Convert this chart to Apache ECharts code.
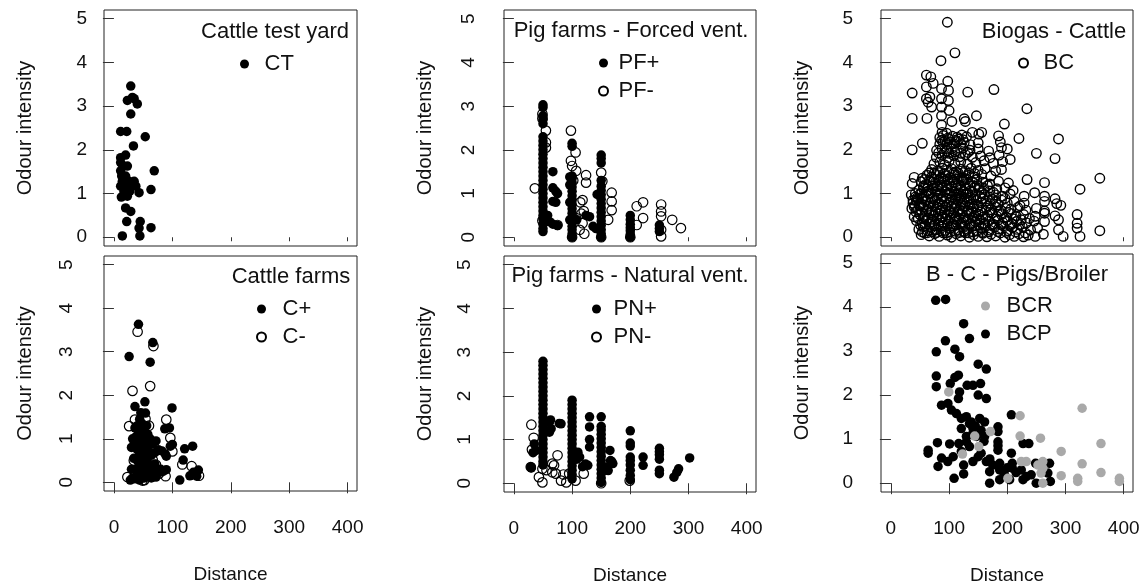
<!DOCTYPE html>
<html>
<head>
<meta charset="utf-8">
<script src="https://cdn.jsdelivr.net/npm/echarts@6/dist/echarts.min.js"></script>
<style>
  html, body { margin: 0; padding: 0; background: #fff; }
  #chart { width: 1146px; height: 587px; }
</style>
</head>
<body>
<div id="chart"></div>
<script>
// tick values shared by every panel
const xTicks = [0, 100, 200, 300, 400];
const yTicks = [0, 1, 2, 3, 4, 5];

const panelTitles = ['Cattle test yard', 'Pig farms - Forced vent.', 'Biogas - Cattle',
  'Cattle farms', 'Pig farms - Natural vent.', 'B - C - Pigs/Broiler'];

// Cattle test yard
const ctPoints = [[28.8,3.46],[23,3.13],[31.7,3.2],[34.6,3.17],[40,3.05],[28.8,2.82],[11.5,2.42],[21.9,2.42],
  [53.6,2.3],[33.4,2.09],[11.5,1.82],[20,1.88],[11.5,1.71],[15.6,1.63],[23,1.63],[11.5,1.52],[69,1.52],
  [13.3,1.4],[20,1.4],[14.4,1.28],[25.9,1.28],[34.6,1.28],[11.5,1.17],[20,1.17],[28.8,1.17],[37.5,1.17],
  [17.3,1.05],[27,1.05],[43,1.02],[63.4,1.09],[12.7,0.92],[23,0.94],[20,0.67],[28.8,0.59],[21.9,0.36],
  [45,0.36],[43,0.21],[63.4,0.22],[14.4,0.03],[44.4,0.03],[31.7,1.21],[17.3,1.25]];

// Pig farms - forced ventilation
const pfPlus = [[50,0.13],[50,0.2],[50,0.3],[50,0.42],[50,0.5],[50,0.6],[50,0.7],[50,0.8],[50,0.9],[50,1.0],
  [50,1.1],[50,1.2],[50,1.3],[50,1.4],[50,1.5],[50,1.6],[50,1.7],[50,1.8],[50,1.9],[50,2.0],[50,2.1],[50,2.2],
  [50,2.3],[50,2.6],[50,2.7],[50,2.78],[50,2.97],[50,3.03],
  [100,0],[100,0.08],[100,0.17],[100,0.25],[100,0.35],[100,0.45],[100,0.55],[100,0.65],[100,0.75],[100,0.85],
  [100,0.95],[100,1.05],[100,1.15],[100,1.25],[100,1.35],[100,1.4],[100,2.08],[100,2.15],[96,0.4],[96,0.8],
  [96,1.2],[96,1.38],
  [150,0],[150,0.08],[150,0.17],[150,0.27],[150,0.37],[150,0.47],[150,0.57],[150,0.67],[150,0.77],[150,0.87],
  [150,0.97],[150,1.07],[150,1.17],[150,1.3],[150,1.7],[150,1.8],[150,1.88],[143,0.98],
  [200,0],[200,0.07],[200,0.15],[200,0.22],[200,0.3],[200,0.4],[200,0.5],
  [250,0.13],[250,0.2],[250,0.28],
  [67,1.5],[67,1.13],[72,1.05],[75,1.0],[67,0.82],[72,0.8],[67,0.3],[75,0.27],[58,0.5],[124,0.5],[130,0.47],
  [136,0.25],[141,0.2],[108,0.4],[62,0.35]];
const pfMinus = [[36,1.12],[49,2.72],[49,2.82],[55,2.44],[55,2.17],[55,2.05],[49,0.38],[75,0.28],[98,2.44],
  [98,1.75],[100,1.63],[106,1.94],[107,1.52],[114,0.8],[124,1.42],[124,1.25],[116,0.54],[118,0.32],[121,0.08],
  [113,0.17],[107,0.44],[150,1.48],[152,1.28],[168,1.02],[168,0.82],[168,0.62],[162,0.4],[211,0.71],[222,0.8],
  [222,0.44],[211,0.28],[253,0.75],[253,0.59],[253,0.48],[253,0.17],[253,0.02],[272,0.4],[287,0.21],[200,0.0],
  [150,0.0],[100,0.0],[102,1.3],[120,0.6],[118,0.85]];

// Biogas - cattle
const bcPoints = [
  [52,0.06],[58,0.1],[66,0.03],[75,0.08],[83,0.02],[90,0.1],[97,0.05],[104,0.0],[112,0.08],[120,0.03],[128,0.1],
  [135,0.0],[142,0.06],[150,0.02],[158,0.09],[165,0.01],[172,0.07],[180,0.03],[188,0.1],[196,0.0],[204,0.06],
  [212,0.02],[220,0.08],[228,0.01],[236,0.05],[248,0.02],[262,0.07],[296,0.02],[325,0.02],
  [48,0.18],[56,0.24],[63,0.15],[70,0.22],[78,0.17],[86,0.25],[93,0.14],[101,0.2],[108,0.26],[116,0.16],[124,0.22],
  [131,0.18],[139,0.25],[147,0.15],[155,0.21],[162,0.27],[170,0.16],[178,0.23],[185,0.19],[193,0.26],[201,0.15],
  [209,0.22],[217,0.18],[226,0.24],[240,0.17],[252,0.21],[288,0.17],[320,0.21],[359,0.15],
  [44,0.38],[54,0.32],[61,0.4],[68,0.35],[76,0.3],[84,0.39],[91,0.33],[99,0.37],[107,0.3],[114,0.4],[122,0.34],
  [130,0.38],[137,0.31],[145,0.36],[153,0.4],[161,0.32],[168,0.37],[176,0.3],[184,0.39],[192,0.34],[200,0.38],
  [208,0.31],[216,0.36],[224,0.4],[233,0.33],[246,0.37],[264,0.36],[288,0.4],[320,0.32],
  [40,0.47],[50,0.52],[58,0.45],[66,0.55],[73,0.49],[81,0.53],[89,0.46],[96,0.51],[104,0.55],[112,0.47],[119,0.52],
  [127,0.45],[135,0.54],[143,0.49],[150,0.53],[158,0.46],[166,0.5],[174,0.55],[182,0.48],[190,0.52],[198,0.46],
  [207,0.54],[215,0.49],[228,0.52],[248,0.48],[264,0.55],[282,0.49],[320,0.52],
  [36,0.66],[46,0.62],[55,0.69],[63,0.64],[71,0.6],[79,0.68],[87,0.63],[94,0.7],[102,0.61],[110,0.67],[117,0.64],
  [125,0.7],[133,0.6],[141,0.66],[148,0.69],[156,0.62],[164,0.67],[172,0.63],[180,0.7],[189,0.61],[197,0.66],
  [206,0.64],[218,0.68],[232,0.62],[250,0.66],[264,0.6],
  [38,0.78],[44,0.84],[52,0.76],[60,0.82],[68,0.79],[76,0.85],[84,0.77],[92,0.83],[100,0.8],[108,0.76],[115,0.84],
  [123,0.78],[131,0.82],[139,0.76],[147,0.85],[155,0.79],[163,0.83],[171,0.77],[180,0.81],[190,0.85],[200,0.78],
  [212,0.82],[229,0.78],[264,0.82],[285,0.77],[292,0.73],
  [35,0.97],[42,0.92],[50,0.99],[57,0.94],[65,1.0],[73,0.91],[81,0.96],[89,0.93],[97,0.99],[105,0.92],[113,0.97],
  [121,0.94],[129,1.0],[137,0.91],[145,0.96],[153,0.93],[161,0.98],[170,0.92],[180,0.97],[192,0.94],[205,0.99],
  [229,0.94],[247,1.02],[264,0.94],[282,0.88],
  [48,1.08],[56,1.13],[64,1.06],[72,1.12],[80,1.07],[88,1.14],[96,1.09],[104,1.05],[112,1.13],[120,1.08],[128,1.11],
  [136,1.06],[144,1.14],[152,1.09],[160,1.12],[170,1.06],[182,1.11],[196,1.13],[210,1.07],[325,1.1],
  [36.6,1.23],[52,1.27],[60,1.21],[68,1.29],[76,1.24],[84,1.2],[92,1.28],[100,1.22],[108,1.26],[116,1.2],[124,1.29],
  [132,1.23],[140,1.27],[148,1.21],[158,1.26],[170,1.22],[185,1.28],[202,1.24],[234,1.32],[264,1.25],
  [40,1.37],[54,1.35],[62,1.42],[70,1.38],[78,1.44],[86,1.36],[94,1.41],[102,1.37],[110,1.43],[118,1.39],[126,1.35],
  [134,1.42],[144,1.38],[156,1.44],[172,1.4],[359,1.35],
  [70,1.55],[80,1.52],[88,1.58],[96,1.53],[104,1.57],[112,1.5],[120,1.56],[128,1.52],[138,1.58],[150,1.53],[162,1.57],
  [180,1.52],[190,1.55],
  [74,1.68],[84,1.72],[92,1.66],[100,1.74],[110,1.69],[120,1.73],[132,1.67],[146,1.71],[160,1.75],[176,1.69],
  [192,1.73],[205,1.78],
  [78,1.83],[88,1.88],[98,1.82],[108,1.87],[118,1.84],[128,1.89],[140,1.83],[154,1.86],[170,1.82],[186,1.88],[282,1.8],
  [36.6,2.0],[78.5,1.99],[88,2.03],[96,1.97],[104,2.02],[114,1.98],[124,2.04],[136,1.99],[150,2.02],[168,1.97],
  [190,2.05],[200,2.02],
  [54,2.15],[84,2.13],[90,2.18],[96,2.12],[102,2.17],[108,2.14],[114,2.19],[120,2.13],[126,2.17],[136,2.12],
  [150,2.16],[188,2.18],
  [84,2.28],[90,2.33],[98,2.27],[106,2.31],[114,2.29],[122,2.34],[130,2.3],[151,2.36],[185,2.32],[220,2.26],
  [288,2.25],[250,1.92],[88,2.4],[96,2.38],[140,2.4],[156,2.4],
  [40,0.7],[45,0.9],[48,0.75],[53,0.88],[42,1.0],[38,0.85],
  [54,0.12],[62,0.1],[71,0.13],[79,0.11],[87,0.14],[95,0.1],[102,0.12],[110,0.14],[118,0.11],[126,0.13],[133,0.1],
  [141,0.12],[149,0.14],[157,0.11],[168,0.12],[184,0.13],[199,0.11],[214,0.12],[231,0.1],
  [51,0.28],[59,0.27],[66,0.3],[74,0.26],[82,0.29],[89,0.27],[97,0.3],[104,0.26],[112,0.28],[120,0.3],[127,0.27],
  [135,0.29],[143,0.26],[151,0.28],[159,0.3],[174,0.27],[189,0.29],[205,0.27],[221,0.29],
  [47,0.43],[56,0.42],[64,0.44],[71,0.41],[79,0.43],[87,0.45],[94,0.42],[102,0.44],[110,0.41],[117,0.43],[125,0.45],
  [133,0.42],[140,0.44],[148,0.41],[163,0.43],[179,0.42],[195,0.44],[211,0.42],[238,0.43],
  [43,0.58],[53,0.57],[61,0.59],[69,0.56],[77,0.58],[85,0.6],[92,0.57],[100,0.59],[108,0.56],[115,0.58],[123,0.6],
  [131,0.57],[138,0.59],[146,0.56],[154,0.58],[170,0.57],[186,0.59],[202,0.57],
  [41,0.73],[49,0.72],[57,0.74],[65,0.71],[73,0.73],[81,0.75],[89,0.72],[96,0.74],[104,0.71],[112,0.73],[120,0.75],
  [127,0.72],[135,0.74],[143,0.71],[151,0.73],[167,0.72],[184,0.74],[222,0.72],
  [47,0.87],[55,0.89],[63,0.86],[71,0.88],[79,0.9],[87,0.87],[95,0.89],[103,0.86],[111,0.88],[118,0.9],[126,0.87],
  [134,0.89],[142,0.86],[158,0.88],[175,0.87],[196,0.89],
  [53,1.02],[61,1.03],[69,1.01],[77,1.03],[85,1.02],[93,1.04],[101,1.01],[109,1.03],[116,1.02],[124,1.04],
  [132,1.01],[140,1.03],[156,1.02],[176,1.03],
  [56,1.17],[64,1.16],[72,1.18],[80,1.16],[88,1.18],[96,1.17],[104,1.16],[112,1.18],[120,1.16],[128,1.18],
  [136,1.17],[152,1.16],[166,1.18],
  [58,1.32],[66,1.31],[74,1.33],[82,1.31],[90,1.33],[98,1.32],[106,1.31],[114,1.33],[122,1.31],[130,1.33],[148,1.32],
  [66,1.47],[74,1.46],[84,1.48],[92,1.46],[100,1.48],[108,1.47],[116,1.46],[124,1.48],[134,1.47],[144,1.46],
  [87,2.22],[93,2.2],[100,2.24],[111,2.22],[117,2.25],[124,2.23],
  [82,1.93],[92,1.94],[100,1.92],[110,1.95],[120,1.92],[132,1.94],
  [97,4.92],[110,4.22],[86,4.04],[61,3.71],[68.6,3.67],[61,3.44],[72.7,3.52],[36.6,3.3],[97.7,3.57],[87,3.4],
  [99,3.36],[132,3.32],[177,3.38],[61,3.17],[67,3.21],[64,3.09],[70,2.98],[87,3.17],[98.8,3.13],[87,2.98],
  [100,2.9],[87,2.78],[87,2.57],[36.6,2.72],[62,2.72],[104.7,2.65],[126,2.71],[147,2.78],[128,2.65],[233.7,2.94],
  [195,2.59]];

// Cattle farms
const cPlus = [[42,3.63],[66.5,3.21],[26,2.89],[62,2.76],[53,1.85],[36,1.74],[99.4,1.71],[46,1.6],[54,1.59],
  [87,1.23],[95,1.25],[96.5,0.83],[100,0.87],[121,0.77],[134.7,0.83],[118.5,0.51],[112.7,0.05],[130,0.15],
  [136,0.23],[144.5,0.28],[141.6,0.14],[89.6,0.6],[89.6,0.29],
  [28,0.05],[32,0.1],[36,0.08],[40,0.15],[44,0.05],[48,0.12],[52,0.1],[56,0.2],[60,0.15],[64,0.1],[68,0.2],
  [72,0.12],[76,0.22],[80,0.3],[84,0.25],
  [30,0.3],[38,0.28],[42,0.35],[46,0.3],[50,0.4],[54,0.35],[58,0.45],[62,0.38],[66,0.3],[70,0.42],
  [34,0.55],[40,0.5],[44,0.6],[48,0.55],[52,0.65],[56,0.58],[60,0.7],[64,0.62],[70,0.68],[76,0.75],[82,0.72],[88,0.65],
  [30,0.8],[36,0.85],[40,0.75],[44,0.9],[48,0.8],[52,0.95],[56,0.85],[60,0.9],[66,0.88],[72,0.95],
  [32,1.0],[38,1.05],[42,1.1],[46,1.0],[50,1.15],[54,1.05],[58,1.1],[62,1.0],
  [36,1.25],[40,1.3],[44,1.2],[48,1.35],[52,1.25],[56,1.3],[44,1.45]];
const cMinus = [[40.5,3.46],[67.6,3.13],[31.8,2.1],[62,2.21],[26,1.29],[36,1.44],[54,1.46],[89.6,1.44],[96.5,1.02],
  [100,0.71],[117,0.41],[133,0.37],[145.6,0.15],[88.4,0.14],[49,0.04],[23,0.12],[66.5,0.51],[34,0.5],[58,0.25],
  [72,0.4],[52,0.05],[77,0.2],[45,0.7],[60,1.3]];

// Pig farms - natural ventilation
const pnPlus = [[50,0.42],[50,0.5],[50,0.6],[50,0.7],[50,0.8],[50,0.9],[50,1.0],[50,1.1],[50,1.2],[50,1.3],[50,1.4],
  [50,1.5],[50,1.6],[50,1.7],[50,1.8],[50,1.9],[50,2.0],[50,2.1],[50,2.2],[50,2.3],[50,2.4],[50,2.5],[50,2.6],
  [50,2.7],[50,2.79],
  [100,0.1],[100,0.2],[100,0.3],[100,0.4],[100,0.5],[100,0.6],[100,0.7],[100,0.8],[100,0.9],[100,1.0],[100,1.1],
  [100,1.2],[100,1.3],[100,1.4],[100,1.5],[100,1.6],[100,1.7],[100,1.8],[100,1.9],
  [150,0.02],[150,0.12],[150,0.22],[150,0.32],[150,0.42],[150,0.52],[150,0.62],[150,0.72],[150,0.82],[150,0.92],
  [150,1.02],[150,1.12],[150,1.22],[150,1.3],[150,1.52],
  [200,0.08],[200,0.18],[200,0.3],[200,0.42],[200,0.52],[200,0.6],[200,0.85],[200,0.92],[200,1.2],
  [250,0.22],[250,0.3],[250,0.55],[250,0.65],[250,0.72],[250,0.8],
  [35,0.9],[38,0.75],[33,0.7],[29,0.37],[30,0.35],[61,1.4],[64,1.25],[61,1.17],[63,1.45],[78,1.37],[81,1.36],
  [110,0.71],[113,0.6],[118,0.38],[127,0.41],[130,1.52],[130,1.29],[130,1.0],[130,0.83],[123,0.44],[165,0.75],
  [166,0.52],[170,0.45],[162,0.29],[159,0.37],[222,0.6],[222,0.41],[275,0.14],[283,0.33],[280,0.25],[302,0.58],
  [105,0.62],[108,0.55],[158,0.3],[168,0.5]];
const pnMinus = [[30,1.34],[34,1.04],[31,0.77],[29,0.37],[43,0.14],[49,0.02],[49,0.33],[66,0.45],[69,0.41],[75,0.64],
  [72,0.22],[66,0.25],[81,0.06],[90,0.02],[106,0.06],[120,0.22],[150,0.0],[199,0.06],[56,0.3],[85,0.2],[95,0.22]];

// Biogas - cattle - pigs/broiler
const bcpPoints = [[77,4.15],[94,4.17],[125,3.62],[93.7,3.23],[135,3.28],[78,2.98],[110,3.04],[118,2.87],[150,2.7],
  [164,2.59],[78,2.43],[110,2.4],[116,2.45],[78,2.19],[102,2.26],[131,2.22],[141,2.22],[154,2.26],[150,2.0],
  [164,1.92],[118,2.07],[116,1.92],[87,1.77],[98,1.81],[104,1.66],[112.6,1.58],[121,1.47],[129.7,1.51],[138,1.39],
  [152.6,1.47],[161,1.39],[141,1.24],[121,1.24],[207,1.55],[184,1.28],[184,1.17],[184,0.94],[184,0.75],[184,0.85],
  [129.7,1.06],[135,0.83],[146.9,1.06],[161,1.06],[155,0.68],[164,0.49],[175,0.41],[186.9,0.45],[186.9,0.3],
  [186.9,0.08],[169.7,0.0],[64,0.75],[64,0.68],[80,0.92],[101,0.89],[116.6,0.9],[121,0.72],[87,0.57],[97.7,0.49],
  [81,0.38],[107,0.6],[108.6,0.11],[125,0.21],[125,0.41],[141,0.49],[150,0.6],[207,0.68],[208.6,0.45],[208.6,0.34],
  [215,0.24],[227,0.9],[237,0.9],[227,0.08],[232.6,0.15],[241,0.19],[248.6,0.45],[249.7,0.0],[224,0.3],[272.6,0.45],
  [269.7,0.23],[274,0.04],[204,0.08],[169.7,0.26],[135,1.35],[129.7,0.94],[140,1.1],[145,1.3],[155,1.2],[160,0.95],
  [170,0.55],[195,0.2],[200,0.35]];
const bcrPoints = [[99.4,2.07],[222,1.53],[328.6,1.7],[144,1.07],[171,1.17],[222,1.07],[257,1.02],[123,0.66],
  [151,0.83],[361,0.9],[292.6,0.72],[328.6,0.44],[224,0.49],[232.6,0.49],[261,0.49],[252.6,0.41],[261,0.34],
  [201,0.11],[292.6,0.17],[321,0.11],[321,0.04],[361,0.24],[392.6,0.11],[392.6,0.04],[261,0.0],[258,0.23]];

const FONT = '"Liberation Sans", Arial, sans-serif';
const INK = '#111';

const chart = echarts.init(document.getElementById('chart'), null, { renderer: 'canvas' });

// box of each panel in pixels
const boxes = [
  { left: 104, top: 10, width: 253, height: 236 },
  { left: 504, top: 10, width: 252, height: 236 },
  { left: 881, top: 10, width: 252, height: 236 },
  { left: 104, top: 256, width: 253, height: 235 },
  { left: 504, top: 256, width: 252, height: 236 },
  { left: 881, top: 254, width: 252, height: 238 }
];
// y label style per panel: rotated (R las=0) or horizontal
const yRotate = [0, 90, 0, 90, 90, 0];
const yMargin = [17, 26, 28, 28, 30, 28];

const grids = boxes.map(b => ({
  left: b.left, top: b.top, width: b.width, height: b.height,
  show: true, borderColor: '#222', borderWidth: 1, backgroundColor: 'transparent'
}));

const xAxes = boxes.map((b, i) => {
  const bottomRow = i >= 3;
  return {
    type: 'value', gridIndex: i, min: -17, max: 416,
    axisLine: { show: false },
    splitLine: { show: false },
    axisTick: { show: true, length: bottomRow ? 11 : 4, lineStyle: { color: '#333' }, customValues: xTicks },
    axisLabel: { show: bottomRow, customValues: xTicks, fontSize: 19, color: INK, fontFamily: FONT, margin: 27 },
    name: bottomRow ? 'Distance' : '',
    nameLocation: 'middle', nameGap: 74,
    nameTextStyle: { fontSize: 19, color: INK, fontFamily: FONT }
  };
});

const yAxes = boxes.map((b, i) => ({
  type: 'value', gridIndex: i, min: -0.2, max: 5.2,
  axisLine: { show: false },
  splitLine: { show: false },
  axisTick: { show: true, length: 11, lineStyle: { color: '#333' }, customValues: yTicks },
  axisLabel: { customValues: yTicks, rotate: yRotate[i], fontSize: 19, color: INK, fontFamily: FONT, margin: yMargin[i] },
  name: 'Odour intensity', nameLocation: 'middle', nameGap: 69,
  nameTextStyle: { fontSize: 20, color: INK, fontFamily: FONT }
}));

const filled = (name, data, idx, color) => ({
  name, type: 'scatter', data, xAxisIndex: idx, yAxisIndex: idx,
  symbol: 'circle', symbolSize: 9.5,
  itemStyle: { color: color || '#000', opacity: 1 },
  emphasis: { disabled: true }
});
const open = (name, data, idx, lw) => ({
  name, type: 'scatter', data, xAxisIndex: idx, yAxisIndex: idx,
  symbol: 'circle', symbolSize: 9.5,
  itemStyle: { color: 'transparent', borderColor: '#000', borderWidth: lw || 1.2, opacity: 1 },
  emphasis: { disabled: true }
});

const series = [
  filled('CT', ctPoints, 0),
  filled('PF+', pfPlus, 1),
  open('PF-', pfMinus, 1),
  open('BC', bcPoints, 2, 1.4),
  filled('C+', cPlus, 3),
  open('C-', cMinus, 3),
  filled('PN+', pnPlus, 4),
  open('PN-', pnMinus, 4),
  filled('BCP', bcpPoints, 5),
  filled('BCR', bcrPoints, 5, '#a9a9a9')
];

// panel title positions (centre x, top y)
const titlePos = [[275, 21], [631, 20], [1054, 21], [291, 266], [630, 265], [1017, 264]];
const titles = panelTitles.map((t, i) => ({
  text: t, left: titlePos[i][0], top: titlePos[i][1], textAlign: 'center', padding: 0,
  textStyle: { fontSize: 22, fontWeight: 'normal', color: INK, fontFamily: FONT }
}));

// legend blocks: entries, left, top, icon box width
const legendDefs = [
  [['CT'], 240, 53, 30],
  [['PF+', 'PF-'], 598, 52, 20],
  [['BC'], 1018, 52, 30],
  [['C+', 'C-'], 256, 298, 32],
  [['PN+', 'PN-'], 591, 298, 24],
  [['BCR', 'BCP'], 981, 295, 32]
];
const legends = legendDefs.map(d => ({
  data: d[0], left: d[1], top: d[2], orient: 'vertical', padding: 0,
  itemWidth: d[3], itemHeight: 9, itemGap: 6, selectedMode: false,
  textStyle: { fontSize: 22, color: INK, fontFamily: FONT, lineHeight: 21 }
}));

chart.setOption({
  animation: false,
  backgroundColor: '#fff',
  title: titles,
  legend: legends,
  grid: grids,
  xAxis: xAxes,
  yAxis: yAxes,
  series: series
});
</script>
</body>
</html>
